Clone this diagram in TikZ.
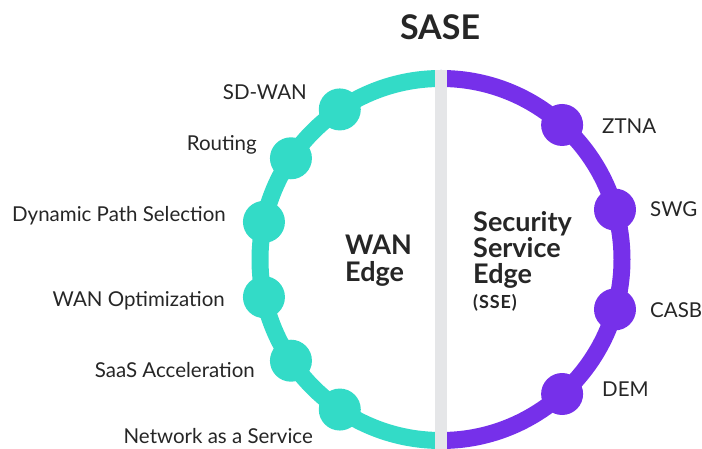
\documentclass[tikz,border=0pt]{standalone}
\usepackage{fontspec}
\setmainfont{Lato}
\definecolor{wan}{HTML}{33DBC7}
\definecolor{sse}{HTML}{7630EA}
\definecolor{bar}{HTML}{E5E6E8}
\definecolor{ink}{HTML}{262626}
\begin{document}
\begin{tikzpicture}[x=1pt,y=1pt,
  wandot/.style={circle,fill=wan,minimum size=42pt,inner sep=0pt},
  ssedot/.style={circle,fill=sse,minimum size=42pt,inner sep=0pt},
  lbl/.style={text=ink,inner sep=0pt,font=\fontsize{20.5}{24}\selectfont},
  big/.style={text=ink,inner sep=0pt,align=left}]
\useasboundingbox (0,0) rectangle (702,449);
\coordinate (c) at (441,189.5);
\draw[wan,line width=17pt] (441,370.5) coordinate (top) arc[start angle=90,end angle=270,radius=181];
\draw[sse,line width=17pt] (441,370.5) arc[start angle=90,end angle=-90,radius=181];
\foreach \a/\n in {124/d1,146/d2,168/d3,192/d4,214/d5,236/d6}
  \node[wandot] (\n) at ([shift={(\a:181)}]c) {};
\foreach \a/\n in {48/s1,16/s2,-16/s3,-48/s4}
  \node[ssedot] (\n) at ([shift={(\a:181)}]c) {};
\fill[bar] (435,0) rectangle (447,379);
\node[lbl,anchor=base east] (t1) at (307,349) {SD-WAN};
\node[lbl,anchor=base east] (t2) at (257,298.3) {Routing};
\node[lbl,anchor=base east] (t3) at (226,227) {Dynamic Path Selection};
\node[lbl,anchor=base east] (t4) at (225,142) {WAN Optimization};
\node[lbl,anchor=base east] (t5) at (255,71) {SaaS Acceleration};
\node[lbl,anchor=base east] (t6) at (313,5) {Network as a Service};
\node[lbl,anchor=base west] (u1) at (602,315) {ZTNA};
\node[lbl,anchor=base west] (u2) at (650,232) {SWG};
\node[lbl,anchor=base west] (u3) at (650,131) {CASB};
\node[lbl,anchor=base west] (u4) at (602,52) {DEM};
\node[text=ink,inner sep=0pt,anchor=base,font=\bfseries\fontsize{34}{36}\selectfont] (title) at (440,409) {SASE};
\node[big,anchor=base west,font=\bfseries\fontsize{27}{27.4}\selectfont] (wanedge) at (345,167.3) {WAN\\Edge};
\node[big,anchor=base west,font=\bfseries\fontsize{27}{25.8}\selectfont] (sseedge) at (473,165.7) {Security\\Service\\Edge};
\node[text=ink,inner sep=0pt,anchor=base west,font=\bfseries\fontsize{18}{19}\selectfont\addfontfeature{LetterSpace=5}] (sseabbr) at (473,140.7) {(SSE)};
\end{tikzpicture}
\end{document}
